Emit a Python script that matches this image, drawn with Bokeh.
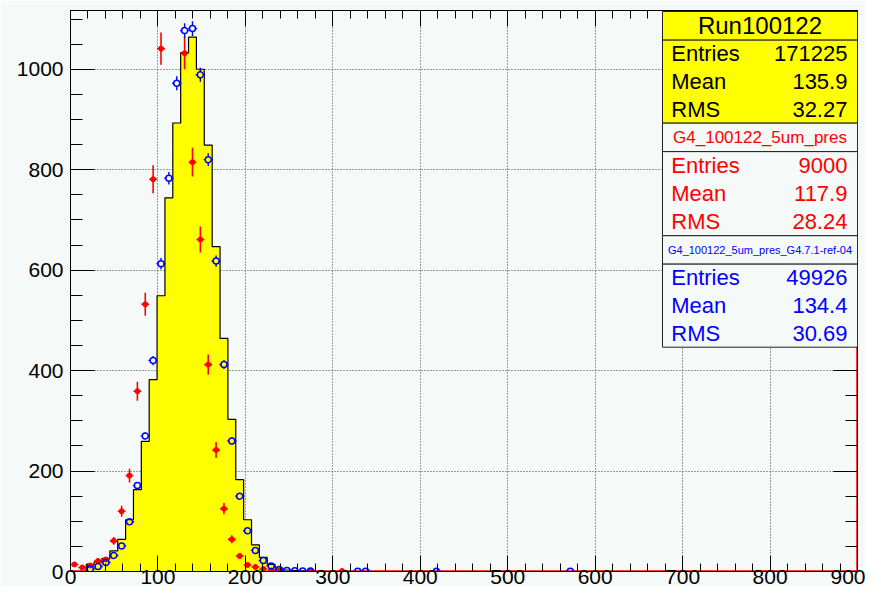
from bokeh.plotting import figure
from bokeh.models import Range1d, SingleIntervalTicker, FixedTicker, LinearAxis, BoxAnnotation, Label
from bokeh.embed import file_html
from bokeh.resources import INLINE

# ---------------- data ----------------
N_BINS = 100
X_MIN, X_MAX = 0.0, 900.0
Y_MAX = 1117.0

# Run100122 (yellow histogram): contents of bins 0..30, all later bins empty
run_counts = [0, 0, 14, 19, 26, 41, 64, 103, 163, 259, 382, 549, 744, 893, 1033,
              1064, 1000, 849, 647, 464, 303, 183, 103, 53, 28, 14, 7, 3, 2, 1, 1]

# G4_100122_5um_pres (red points)
red_bins = list(range(0, 27)) + [30, 34]
red_counts = [14, 8, 12, 21, 24, 61, 120, 191, 359, 532, 781, 1041, 1205, 1235, 1032,
              815, 661, 412, 242, 125, 64, 31, 13, 9, 5, 2, 1, 1, 1]
red_errors = [3.7, 2.8, 3.5, 4.6, 4.9, 7.8, 11, 13.8, 19, 23, 28, 32, 34.7, 35.1, 32,
              28.5, 25.7, 20.3, 15.6, 11.2, 8, 5.6, 3.6, 3, 2.2, 1.4, 1, 1, 1]

# G4_100122_5um_pres_G4.7.1-ref-04 (blue points)
blue_bins = list(range(2, 31)) + [36, 37, 46, 63]
blue_counts = [5, 10, 18, 32, 51, 99, 171, 270, 420, 613, 783, 972, 1077, 1081, 989,
               820, 618, 412, 260, 150, 81, 42, 22, 11, 4, 2, 1.5, 1.2, 1,
               0.5, 0.5, 0.5, 0.5]
blue_errors = [1.0, 1.4, 1.9, 2.5, 3.2, 4.5, 5.8, 7.3, 9.2, 11, 12.5, 14, 14.7, 14.7, 14,
               12.8, 11, 9, 7.2, 5.5, 4, 2.9, 2.1, 1.5, 0.9, 0.6, 0.5, 0.5, 0.4,
               0.3, 0.3, 0.3, 0.3]

# statistics boxes
stat_titles = ["Run100122", "G4_100122_5um_pres", "G4_100122_5um_pres_G4.7.1-ref-04"]
stat_entries = ["171225", "9000", "49926"]
stat_means = ["135.9", "117.9", "134.4"]
stat_rms = ["32.27", "28.24", "30.69"]

# ---------------- style ----------------
BG = "#f5f9f7"
YELLOW = "#ffff00"
RED = "#ff0000"
BLUE = "#0000ff"
FONT = "Liberation Sans"
X_MAJOR, X_MINOR_N = 100, 5
Y_MAJOR, Y_MINOR_N = 200, 4

bw = (X_MAX - X_MIN) / N_BINS


def edge(i):
    return X_MIN + i * bw


def center(i):
    return X_MIN + (i + 0.5) * bw


p = figure(width=865, height=586,
           x_range=Range1d(X_MIN, X_MAX), y_range=Range1d(0, Y_MAX),
           output_backend="svg", toolbar_location=None,
           min_border_left=70, min_border_right=8, min_border_top=10, min_border_bottom=0,
           background_fill_color=BG, border_fill_color=BG,
           outline_line_color="black", outline_line_width=1)

xt = SingleIntervalTicker(interval=X_MAJOR, num_minor_ticks=X_MINOR_N)
yt = SingleIntervalTicker(interval=Y_MAJOR, num_minor_ticks=Y_MINOR_N)

for ax in p.xaxis:
    ax.ticker = xt
    ax.major_tick_in = 16
    ax.major_tick_out = 0
    ax.minor_tick_in = 8
    ax.minor_tick_out = 0
    ax.major_label_standoff = -2
    ax.major_label_text_font = FONT
    ax.major_label_text_font_size = "21px"
    ax.major_label_text_color = "black"
    ax.axis_line_color = "black"
for ax in p.yaxis:
    ax.ticker = yt
    ax.major_tick_in = 24
    ax.major_tick_out = 0
    ax.minor_tick_in = 12
    ax.minor_tick_out = 0
    ax.major_label_standoff = 7
    ax.major_label_text_font = FONT
    ax.major_label_text_font_size = "21px"
    ax.major_label_text_color = "black"
    ax.axis_line_color = "black"

# tick marks (no labels) on the opposite sides of the frame
x_major_pos = list(range(int(X_MIN), int(X_MAX) + 1, X_MAJOR))
x_minor_pos = [v for v in range(int(X_MIN), int(X_MAX) + 1, X_MAJOR // X_MINOR_N) if v not in x_major_pos]
y_major_pos = list(range(0, int(Y_MAX) + 1, Y_MAJOR))
y_minor_pos = [v for v in range(0, int(Y_MAX) + 1, Y_MAJOR // Y_MINOR_N) if v not in y_major_pos]

for pos, ln, side in [(y_major_pos, 24, "right"), (y_minor_pos, 12, "right"),
                      (x_major_pos, 16, "above"), (x_minor_pos, 8, "above")]:
    ax = LinearAxis(ticker=FixedTicker(ticks=[], minor_ticks=pos),
                    major_tick_in=0, major_tick_out=0,
                    minor_tick_in=ln, minor_tick_out=0,
                    major_label_standoff=0, axis_line_color="black")
    p.add_layout(ax, side)

p.xgrid.ticker = xt
p.ygrid.ticker = yt
for g in (p.xgrid, p.ygrid):
    g.grid_line_color = "#404040"
    g.grid_line_dash = "1 2"
    g.grid_line_width = 1

# red baseline / border of the red histogram
p.line([X_MIN, X_MAX, X_MAX], [0, 0, Y_MAX], line_color=RED, line_width=2.5)

# yellow histogram as step polygon
nz = [i for i, c in enumerate(run_counts) if c > 0]
first, last = nz[0], nz[-1]
hx = [edge(first)]
hy = [0]
for i in range(first, last + 1):
    hx += [edge(i), edge(i + 1)]
    hy += [run_counts[i], run_counts[i]]
hx.append(edge(last + 1))
hy.append(0)
p.patch(hx, hy, fill_color=YELLOW, line_color="black", line_width=1.2)

# red points with error bars
rx = [center(i) for i in red_bins]
p.segment(x0=rx, y0=[c - e for c, e in zip(red_counts, red_errors)],
          x1=rx, y1=[c + e for c, e in zip(red_counts, red_errors)],
          line_color=RED, line_width=1.6)
p.segment(x0=[x - bw / 2 for x in rx], y0=red_counts, x1=[x + bw / 2 for x in rx], y1=red_counts,
          line_color=RED, line_width=1.6)
p.scatter(rx, red_counts, marker="circle", size=5, fill_color=RED, line_color=RED)

# blue points: open circles, error bars drawn outside the marker
MARK_PX = 3.0                       # marker radius in pixels
PX_PER_X = 787.0 / (X_MAX - X_MIN)  # approx. frame scale
PX_PER_Y = 560.0 / Y_MAX
rX = MARK_PX / PX_PER_X
rY = MARK_PX / PX_PER_Y
bx = [center(i) for i in blue_bins]
vx, vy0, vy1 = [], [], []
for x, c, e in zip(bx, blue_counts, blue_errors):
    if e > rY:
        vx += [x, x]
        vy0 += [c + rY, c - rY]
        vy1 += [c + e, c - e]
p.segment(x0=vx, y0=vy0, x1=vx, y1=vy1, line_color=BLUE, line_width=1.4)
hx0, hx1, hyy = [], [], []
for x, c in zip(bx, blue_counts):
    hx0 += [x + rX, x - rX]
    hx1 += [x + bw / 2 + 0.8, x - bw / 2 - 0.8]
    hyy += [c, c]
p.segment(x0=hx0, y0=hyy, x1=hx1, y1=hyy, line_color=BLUE, line_width=1.4)
p.scatter(bx, blue_counts, marker="circle", size=2 * MARK_PX, fill_alpha=0,
          line_color=BLUE, line_width=1.5)

# ---------------- statistics boxes ----------------
BOX_L, BOX_R = 677.0, 900.0
TEXT_L, TEXT_R = 687.0, 888.5
BOX_MID = (BOX_L + BOX_R) / 2
# (top, title bottom, stats bottom) per box in data units
box_edges = [(1115, 1058, 892.7), (892.7, 836, 668.6), (668.6, 612, 446.6)]
box_fill = [YELLOW, BG, BG]
box_text = ["black", RED, BLUE]
title_sizes = ["24px", "17px", "11px"]

for k in range(3):
    top, tb, sb = box_edges[k]
    p.add_layout(BoxAnnotation(left=BOX_L, right=BOX_R, top=top, bottom=tb,
                               fill_color=box_fill[k], fill_alpha=1,
                               line_color="#202020", line_width=1, line_alpha=1))
    p.add_layout(BoxAnnotation(left=BOX_L, right=BOX_R, top=tb, bottom=sb,
                               fill_color=box_fill[k], fill_alpha=1,
                               line_color="#202020", line_width=1, line_alpha=1))
    p.add_layout(Label(x=BOX_MID, y=(top + tb) / 2, text=stat_titles[k],
                       text_align="center", text_baseline="middle",
                       text_font=FONT, text_font_size=title_sizes[k],
                       text_color=box_text[k]))
    row_h = (tb - sb) / 3
    rows = [("Entries", stat_entries[k]), ("Mean", stat_means[k]), ("RMS", stat_rms[k])]
    for r, (name, val) in enumerate(rows):
        yy = tb - row_h * (r + 0.5)
        p.add_layout(Label(x=TEXT_L, y=yy, text=name, text_align="left",
                           text_baseline="middle", text_font=FONT, text_font_size="22px",
                           text_color=box_text[k]))
        p.add_layout(Label(x=TEXT_R, y=yy, text=val, text_align="right",
                           text_baseline="middle", text_font=FONT, text_font_size="22px",
                           text_color=box_text[k]))

open("out.html", "w").write(file_html(p, INLINE))
